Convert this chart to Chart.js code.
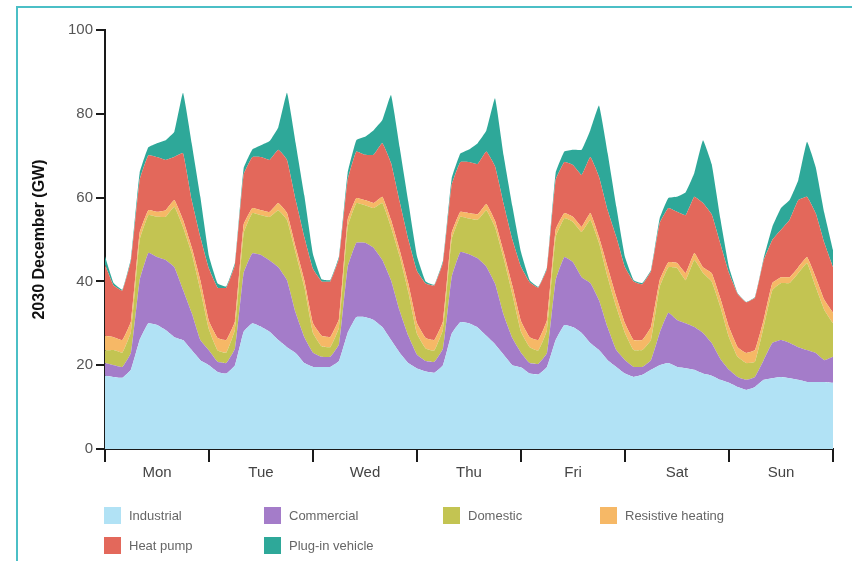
<!DOCTYPE html>
<html>
<head>
<meta charset="utf-8">
<script src="https://cdn.jsdelivr.net/npm/chart.js@4"></script>
<style>
  body { margin: 0; background: #fff; font-family: "Liberation Sans", Arial, sans-serif; }
  #wrap { position: relative; width: 852px; height: 561px; overflow: hidden; }
  #frame { position: absolute; left: 16px; top: 6px; width: 900px; height: 600px;
           border-left: 2px solid #4bbfc6; border-top: 2px solid #4bbfc6; }
  canvas { position: absolute; left: 0; top: 0; }
  .lg { position: absolute; font-size: 13px; color: #666; line-height: 17px; }
  .lg span { display: inline-block; width: 17px; height: 17px; vertical-align: top; margin-right: 8px; }
</style>
</head>
<body>
<div id="wrap">
  <div id="frame"></div>
  <canvas id="loadChart" width="852" height="561"></canvas>
  <div id="legend"></div>
</div>
<script>
// hours from Monday 00:00, every 2 hours, to the end of Sunday
const hours = Array.from({ length: 85 }, (_, i) => i * 2);
const days = ['Mon', 'Tue', 'Wed', 'Thu', 'Fri', 'Sat', 'Sun'];
const seriesNames = ['Industrial', 'Commercial', 'Domestic', 'Resistive heating', 'Heat pump', 'Plug-in vehicle'];
const seriesColors = ['#b1e2f5', '#a47cc9', '#c3c452', '#f6b866', '#e3685b', '#2ea899'];

// GW, stacked layers (each value is the thickness of the layer)
const industrial = [
  17.5, 17.2, 17, 19, 26, 30, 29.6, 28.4, 26.7, 26, 23.6, 21.2,
  20, 18.4, 18, 20, 28, 30, 29.2, 28, 26, 24.3, 22.9, 20.5,
  19.6, 19.6, 19.6, 21, 27.7, 31.5, 31.5, 30.8, 29.1, 26, 23, 20.5,
  19.2, 18.5, 18.2, 20, 27.5, 30.3, 30, 29, 27, 25, 22.5, 20,
  19.5, 18, 17.8, 19.6, 26, 29.6, 29.1, 27.7, 25.3, 23.6, 21.2, 19.6,
  18, 17.2, 17.7, 18.9, 20, 20.5, 19.6, 19.3, 18.9, 18, 17.5, 16.5,
  15.8, 14.8, 14.1, 14.8, 16.5, 16.9, 17.2, 16.9, 16.5, 16, 16, 16,
  15.8
];
const commercial = [
  3, 2.8, 2.6, 4, 14.3, 16.8, 16.2, 16.7, 16.7, 12, 8.9, 4.8,
  3.5, 2.4, 2.5, 4, 14, 16.7, 17.1, 17, 17.4, 16, 9.6, 6.2,
  3.4, 2.4, 2.4, 4, 15.7, 17.7, 17.7, 17.2, 16, 14.3, 10, 6.5,
  3.3, 2.5, 2.6, 4, 13.5, 16.7, 16.5, 16.5, 16.5, 14.5, 9.5, 6.5,
  3.5, 2.5, 2.5, 3.3, 14.3, 16.2, 15.5, 13.3, 14.3, 11.9, 7.8, 4,
  3.2, 2.4, 1.9, 2.3, 7.7, 12, 11.2, 10.7, 10.2, 9.7, 7.8, 5,
  3.1, 2.4, 2.4, 2.4, 4.7, 8.4, 8.8, 8.4, 7.8, 7.6, 6.9, 5.2,
  6.2
];
const domestic = [
  3, 3.6, 3.4, 5, 9.6, 9, 9.6, 10.3, 14.4, 15, 14.3, 12,
  5, 2.7, 2.5, 4.5, 9.5, 9.6, 9.5, 10.4, 13.6, 14.4, 14.3, 12,
  4.7, 2.5, 2.3, 4, 9.6, 9.5, 9, 9.5, 13.6, 12.7, 13, 10.5,
  5, 3, 2.7, 4.5, 9, 8.4, 8.5, 9.2, 13.5, 13.5, 13.5, 10.5,
  5, 3.8, 3.2, 5.5, 10.3, 9.3, 9.6, 10.8, 15.1, 13.7, 12, 10.3,
  6.5, 4, 4, 4.8, 11, 10.9, 12.4, 10.3, 16, 14.3, 14.7, 12.5,
  7.8, 4.8, 4, 3.6, 7.9, 12.6, 13.6, 14.3, 17.7, 20.8, 15.8, 12,
  8
];
const resistive = [
  3.5, 3.1, 3, 2.5, 1.7, 1.2, 1.2, 1.6, 1.6, 1.7, 1.4, 2.3,
  2, 3, 3, 2, 2, 1.2, 1.2, 1.2, 1.7, 1.6, 1.4, 1.6,
  2.3, 2.5, 2.4, 2, 1.7, 1.2, 1.2, 1.2, 1.5, 1.7, 1.5, 2,
  2.5, 2.5, 2.5, 2, 1.5, 1.2, 1.3, 1.3, 1.5, 1.5, 1.5, 2,
  2.5, 2.4, 2.5, 2.4, 1.7, 1.2, 1.2, 1.2, 1.6, 1.4, 2.4, 2.4,
  2.3, 2.4, 2.4, 3.1, 1.6, 1.2, 1.2, 1.7, 1.7, 1.4, 2, 2,
  2.4, 2.3, 2.4, 2.8, 1.7, 1.7, 1.4, 1.4, 1.4, 1.4, 2.3, 2.4,
  2.5
];
const heatPump = [
  17, 12.3, 11.8, 14.5, 12.6, 13.1, 13.1, 12, 10.3, 15.9, 11.2, 10.3,
  12.5, 12, 12.5, 13.5, 12, 12.2, 12.7, 12.4, 12.7, 12.7, 11.2, 10.3,
  13, 13, 13.3, 14.5, 9.5, 11.1, 10.8, 11.5, 12.8, 13.6, 11.5, 10.5,
  12.5, 13, 13, 14, 11.5, 11.9, 12.2, 12, 12.5, 13, 11.5, 11,
  13, 13.1, 12.5, 12.2, 11.9, 12.2, 12.4, 12.4, 13.4, 14.4, 13.6, 14.3,
  13.4, 14, 13.3, 13.3, 13.6, 12.9, 12.2, 13.8, 13.4, 15.3, 14, 13,
  12.9, 12.7, 12.1, 12.5, 14.2, 10.3, 11.3, 13.7, 16, 14.4, 15.3, 13.6,
  10.9
];
const plugIn = [
  2, 0.6, 0.2, 0.5, 1.7, 1.9, 3.3, 4.7, 6, 14.4, 13.6, 9.6,
  3, 1, 0.3, 0.5, 1.5, 1.8, 2.8, 4.5, 5.4, 16, 13.6, 9.9,
  3.5, 0.5, 0.3, 0.5, 1.7, 2.7, 4.3, 5.9, 5.5, 16.2, 13, 9,
  3.5, 0.5, 0.2, 0.5, 1.5, 2, 3, 5, 5, 16.2, 11.5, 8,
  3.5, 0.5, 0.2, 0.4, 1.7, 2.5, 3.6, 6, 6.4, 17, 13.6, 7.2,
  2.4, 0.3, 0.3, 0.3, 1.1, 2.4, 3.6, 5.5, 5.7, 15, 12, 6,
  1.4, 0.2, 0.1, 0.2, 0.5, 3.1, 5.2, 4.7, 4.8, 13.1, 11, 7.1,
  4.1
];
const yTicks = [0, 20, 40, 60, 80, 100];

document.addEventListener('DOMContentLoaded', function () {
    const layers = [industrial, commercial, domestic, resistive, heatPump, plugIn];

    const datasets = layers.map(function (vals, i) {
        return {
            label: seriesNames[i],
            data: vals.map((v, j) => ({ x: hours[j], y: v })),
            backgroundColor: seriesColors[i],
            borderWidth: 0,
            pointRadius: 0,
            tension: 0.1,
            fill: i === 0 ? 'origin' : '-1'
        };
    });

    const ctx = document.getElementById('loadChart').getContext('2d');
    new Chart(ctx, {
        type: 'line',
        data: { datasets: datasets },
        options: {
            responsive: false,
            animation: false,
            layout: { padding: { left: 24, right: 19, top: 30, bottom: 72 } },
            plugins: { legend: { display: false }, tooltip: { enabled: false } },
            scales: {
                x: {
                    type: 'linear',
                    min: 0,
                    max: 168,
                    afterFit: s => { s.height = 40; },
                    afterBuildTicks: s => { s.ticks = hours.filter(h => h % 12 === 0).map(h => ({ value: h })); },
                    ticks: {
                        autoSkip: false,
                        maxRotation: 0,
                        padding: 2,
                        color: '#444',
                        font: { family: '"Liberation Sans", Arial', size: 15 },
                        callback: v => (v % 24 === 12 ? days[(v - 12) / 24] : '')
                    },
                    grid: {
                        drawOnChartArea: false,
                        tickLength: 13,
                        lineWidth: 2,
                        color: c => (c.tick && c.tick.value % 24 === 0 ? '#1a1a1a' : 'rgba(0,0,0,0)')
                    },
                    border: { color: '#1a1a1a', width: 2 }
                },
                y: {
                    stacked: true,
                    min: 0,
                    max: 100,
                    afterFit: s => { s.width = 81; },
                    afterBuildTicks: s => { s.ticks = yTicks.map(v => ({ value: v })); },
                    ticks: {
                        padding: 3,
                        color: '#555',
                        font: { family: '"Liberation Sans", Arial', size: 15 }
                    },
                    grid: { drawOnChartArea: false, tickLength: 9, lineWidth: 2, color: '#1a1a1a' },
                    border: { color: '#1a1a1a', width: 2 },
                    title: {
                        display: true,
                        text: '2030 December (GW)',
                        color: '#111',
                        font: { family: '"Liberation Sans", Arial', size: 16, weight: 'bold' },
                        padding: { top: 6, bottom: 0 }
                    }
                }
            }
        }
    });

    // legend in two rows under the plot
    const legend = document.getElementById('legend');
    const cols = [104, 264, 443, 600];
    seriesNames.forEach(function (name, i) {
        const item = document.createElement('div');
        item.className = 'lg';
        item.style.left = cols[i % 4] + 'px';
        item.style.top = (i < 4 ? 507 : 537) + 'px';
        item.innerHTML = '<span style="background:' + seriesColors[i] + '"></span>' + name;
        legend.appendChild(item);
    });
});
</script>
</body>
</html>
